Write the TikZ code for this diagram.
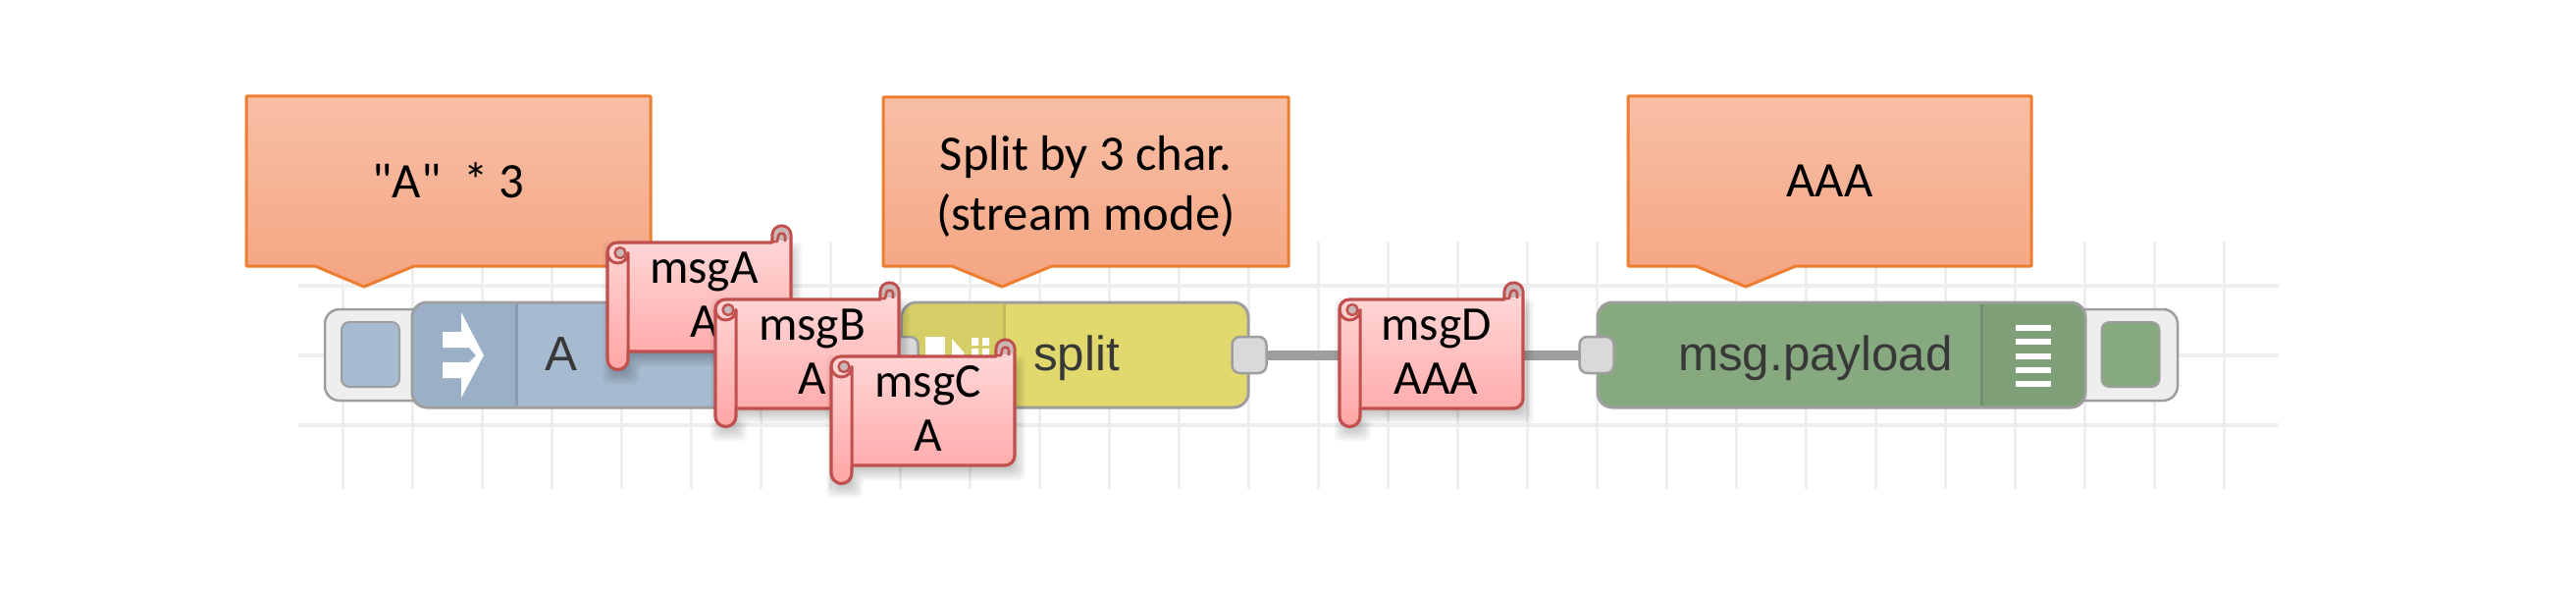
\documentclass[tikz,border=0pt]{standalone}
\usepackage{fontspec}
\newfontfamily\notefont{Carlito}
\newfontfamily\nodefont{Liberation Sans}
\usetikzlibrary{positioning,backgrounds}
\definecolor{gridcol}{HTML}{EEEEEE}
\definecolor{portcol}{HTML}{D9D9D9}
\definecolor{edgecol}{HTML}{9E9E9E}
\definecolor{injectcol}{HTML}{A6BBCF}
\definecolor{injecticon}{HTML}{9BB0C6}
\definecolor{splitcol}{HTML}{E2D96E}
\definecolor{spliticon}{HTML}{D5CE66}
\definecolor{debugcol}{HTML}{87A980}
\definecolor{debugicon}{HTML}{7F9F79}
\definecolor{notecol}{HTML}{ED7D31}
\definecolor{notetop}{HTML}{F8BFA6}
\definecolor{notebot}{HTML}{F4A581}
\definecolor{scrollcol}{HTML}{C0504D}
\definecolor{curlcol}{HTML}{C9B6B6}
\def\px{.75pt}
\tikzset{
	flownode/.style={draw=edgecol, line width=3*\px, rounded corners=15*\px, inner sep=0, outer sep=0},
	portbox/.style={draw=edgecol, line width=2.5*\px, fill=portcol, rounded corners=8*\px, inner sep=0, outer sep=0, minimum width=35*\px, minimum height=37*\px},
	btnbox/.style={draw=edgecol, line width=2.5*\px, fill=gridcol, rounded corners=15*\px},
	btnfill/.style={draw=edgecol, line width=2*\px, rounded corners=8*\px, inner sep=0, outer sep=0, minimum width=59*\px, minimum height=66*\px},
	wire/.style={draw=edgecol, line width=10*\px},
	notebox/.style={draw=notecol, line width=3*\px, top color=notetop, bottom color=notebot},
	notetext/.style={font=\notefont\fontsize{38}{46}\selectfont, align=center, inner sep=0},
	scrolltext/.style={font=\notefont\fontsize{37}{44}\selectfont, inner sep=0, anchor=base},
	nodetext/.style={font=\nodefont\fontsize{37}{44}\selectfont, text=black!78, inner sep=0, anchor=base},
	scrollbody/.style={draw=scrollcol, line width=3.2*\px, top color=red!14!white, bottom color=red!35!white},
	scrollline/.style={draw=scrollcol, line width=3*\px},
}
% callout: centre of text, name, left, right, tip start, tip x, tip end, top, text
\newcommand{\notecall}[9][184]{
	\draw[notebox] (#3,#8) -- (#4,#8) -- (#4,271) -- (#7,271) -- (#6,292) -- (#5,271) -- (#3,271) -- cycle;
	\node[notetext] (#2) at ({(#3+#4)/2},#1) {#9};
}
% scroll: name, left, top of the sheet, message, value
\newcommand{\msgscroll}[5]{
	\begin{scope}[shift={(#2,#3)}]
		\foreach \e in {-6,-4,...,8} \fill[black, opacity=.035, rounded corners=6*\px] (3-\e,7-\e) -- (190+\e,7-\e) -- (190+\e,118+\e) -- (24+\e,118+\e) -- (24+\e,136+\e) -- (3-\e,136+\e) -- cycle;
		\draw[scrollbody] (0,10) arc[start angle=180, end angle=270, radius=10] -- (168,0) -- (168,-7.5) arc[start angle=180, end angle=360, radius=9.5] -- (187,101) arc[start angle=0, end angle=90, radius=10] -- (21,111) -- (21,119) arc[start angle=0, end angle=180, radius=10.5] -- cycle;
		% roll on the left
		\draw[scrollline] (21,111) -- (21,10.5) arc[start angle=0, end angle=180, radius=10.5];
		\draw[scrollline, line width=2.4*\px, fill=curlcol] (13,5) arc[start angle=-90, end angle=90, radius=5.5] arc[start angle=90, end angle=270, radius=5.5];
		% curl on the right
		\fill[curlcol] (177.5,-7.5) circle (8);
		\fill[red!14!white] (170,-2) rectangle (185,0);
		\draw[scrollline, line width=2.6*\px] (169,-1) -- (173,-1) -- (174,-6) arc[start angle=180, end angle=360, radius=3.5] -- (181,-1);
		\node[scrolltext] (#1top) at (98.5,41) {#4};
		\node[scrolltext] (#1val) at (98.5,96) {#5};
	\end{scope}
}
\begin{document}
\begin{tikzpicture}[x=.75pt, y=-.75pt, line join=round]
	\useasboundingbox (0,0) rectangle (2625,606);
	% grid of the editor
	\begin{pgfonlayer}{background}
		\foreach \k in {0,...,27} \draw[gridcol, line width=3*\px] (349+71*\k,246) -- (349+71*\k,498);
		\foreach \y in {291,362,433} \draw[gridcol, line width=4*\px] (304,\y) -- (2322,\y);
	\end{pgfonlayer}
	% notes
	\notecall{noteA}{251}{663}{321}{371}{422}{98}{"A"\ \ * 3}
	\notecall[190]{noteB}{900}{1313}{970}{1021}{1072}{99}{Split by 3 char.\\(stream mode)}
	\notecall{noteC}{1659}{2070}{1728}{1779}{1830}{98}{AAA}
	% inject
	\draw[btnbox] (440,315) -- (331,315) -- (331,408) -- (440,408);
	\node[btnfill, fill=injectcol] (injectbtn) at (377.5,361) {};
	\node[flownode, fill=injectcol, minimum width=460*\px, minimum height=107*\px] (inject) at (650,361.5) {};
	\begin{scope}
		\clip[rounded corners=15*\px] (421,309.5) rectangle (880,413.5);
		\fill[injecticon] (421,309) rectangle (526,414);
	\end{scope}
	\draw[injecticon!88!black, line width=3*\px] (526,310) -- (526,413);
	\fill[white] (451,338) -- (470,338) -- (470,318) -- (493,362) -- (470,405) -- (470,385) -- (451,385) -- (451,369) -- (478,369) -- (485,362) -- (478,354) -- (451,354) -- cycle;
	\node[nodetext] (injecttext) at (572,377) {A};
	% split
	\node[flownode, fill=splitcol, minimum width=353*\px, minimum height=107*\px] (split) at (1095.5,361.5) {};
	\begin{scope}
		\clip[rounded corners=15*\px] (920,309.5) rectangle (1270,413.5);
		\fill[spliticon] (920,309) rectangle (1023,414);
	\end{scope}
	\draw[spliticon!90!black, line width=3*\px] (1023,310) -- (1023,413);
	\fill[white] (943,343) rectangle (963,372);
	\fill[white] (970,345) -- (983,360) -- (970,372) -- cycle;
	\foreach \i in {990,1001} \fill[white] (\i,344) rectangle (\i+7,352) (\i,355) rectangle (\i+7,363);
	\node[nodetext] (splittext) at (1097,377) {split};
	\node[portbox] (splitin) at (918,361.5) {};
	\node[portbox] (splitout) at (1273,361.5) {};
	% debug
	\draw[btnbox] (2105,315) -- (2219,315) -- (2219,408) -- (2105,408);
	\node[btnfill, fill=debugcol] (debugbtn) at (2171,361) {};
	\node[flownode, fill=debugcol, minimum width=497*\px, minimum height=107*\px] (debug) at (1876.5,361.5) {};
	\begin{scope}
		\clip[rounded corners=15*\px] (1630,309.5) rectangle (2124,413.5);
		\fill[debugicon] (2019,309) rectangle (2125,414);
	\end{scope}
	\draw[debugicon!90!black, line width=3*\px] (2019,310) -- (2019,413);
	\foreach \y in {334,348,363,377,391} \fill[white] (2054,\y-3) rectangle (2090,\y+3);
	\node[nodetext] (debugtext) at (1850,377) {msg.payload};
	\node[portbox] (debugin) at (1627,361.5) {};
	% wire
	\begin{pgfonlayer}{background}
		\draw[wire] (splitout) -- (debugin);
	\end{pgfonlayer}
	% messages
	\msgscroll{msgA}{619}{247}{msgA}{A}
	\msgscroll{msgB}{729}{305}{msgB}{A}
	\msgscroll{msgC}{847}{363}{msgC}{A}
	\msgscroll{msgD}{1365}{305}{msgD}{AAA}
\end{tikzpicture}
\end{document}
